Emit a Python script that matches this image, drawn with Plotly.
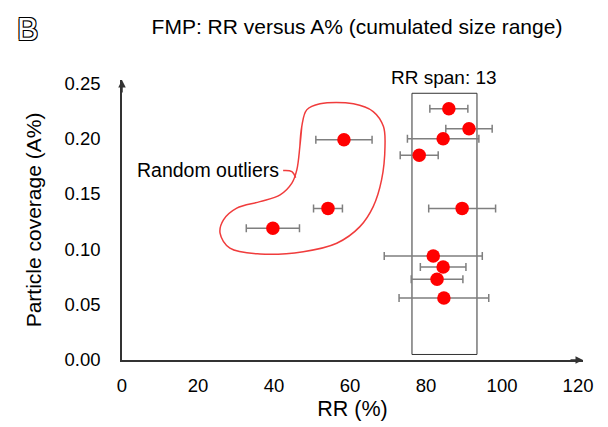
import plotly.graph_objects as go

# RR (%) with symmetric error, versus particle coverage (A%)
rr = [86.0, 91.3, 84.5, 78.2, 89.5, 81.9, 84.5, 82.9, 84.7, 58.4, 54.2, 39.7]
rr_err = [5.0, 6.1, 9.4, 5.0, 8.8, 12.9, 6.0, 6.8, 11.8, 7.4, 3.8, 7.0]
coverage = [0.227, 0.209, 0.200, 0.185, 0.137, 0.094, 0.084, 0.073, 0.056, 0.199, 0.137, 0.119]

# RR span box
span_x = [76.3, 93.4]
span_y = [0.005, 0.241]
span_label = "RR span: 13"

# hand-drawn lasso round the outliers
lasso_x = [46.8, 47.3, 48.6, 52.1, 60.9, 66.1, 68.8, 69.2, 68.3, 66.1, 62.6, 56.5, 47.7,
           36.3, 28.4, 25.8, 26.7, 30.2, 36.3, 41.6, 44.7, 46.0, 46.8, 47.3]
lasso_y = [0.1929, 0.2109, 0.2260, 0.2315, 0.2315, 0.2245, 0.2109, 0.1929, 0.1627, 0.1386,
           0.1205, 0.1055, 0.0979, 0.0958, 0.1010, 0.1146, 0.1266, 0.1372, 0.1431, 0.1492,
           0.1598, 0.1718, 0.1929, 0.2109]
hook_x = [42.4, 44.7, 45.7]
hook_y = [0.1712, 0.1703, 0.1648]

FONT = "Liberation Sans, Arial, sans-serif"

fig = go.Figure()

fig.add_trace(go.Scatter(x=lasso_x, y=lasso_y, mode="lines",
                         line=dict(color="#f03c3c", width=1.5, shape="spline", smoothing=1.0),
                         hoverinfo="skip", showlegend=False))
fig.add_trace(go.Scatter(x=hook_x, y=hook_y, mode="lines",
                         line=dict(color="#f03c3c", width=1.5, shape="spline"),
                         hoverinfo="skip", showlegend=False))

fig.add_trace(go.Scatter(
    x=rr, y=coverage, mode="markers",
    marker=dict(color="#ff0000", size=13.5),
    error_x=dict(type="data", array=rr_err, color="#7f7f7f", thickness=1.5, width=4),
    showlegend=False))

fig.add_shape(type="rect", x0=span_x[0], x1=span_x[1], y0=span_y[0], y1=span_y[1],
              line=dict(color="#333333", width=1), layer="below")

fig.add_annotation(x=sum(span_x) / 2, y=span_y[1], yshift=3, text=span_label,
                   showarrow=False, yanchor="bottom", font=dict(size=19, color="black"))
fig.add_annotation(x=41.8, y=0.172, text="Random outliers", showarrow=False,
                   xanchor="right", yanchor="middle", font=dict(size=19.5, color="black"))

# axis arrows
fig.add_annotation(x=121.3, y=0, ax=-14, ay=0, showarrow=True, arrowhead=2,
                   arrowsize=1, arrowwidth=1.5, arrowcolor="#333333", text="")
fig.add_annotation(x=0, y=0.253, ax=0, ay=14, showarrow=True, arrowhead=2,
                   arrowsize=1, arrowwidth=1.5, arrowcolor="#333333", text="")

# panel letter, outlined
fig.add_annotation(xref="paper", yref="paper", x=-0.204, y=1.182, text="B", showarrow=False,
                   xanchor="center", yanchor="middle",
                   font=dict(size=32, color="white",
                             shadow="-1px -1px 0 #000, 1px -1px 0 #000, -1px 1px 0 #000, 1px 1px 0 #000"))

fig.update_layout(
    width=608, height=427,
    margin=dict(l=114, r=33, t=72, b=75),
    paper_bgcolor="white", plot_bgcolor="white",
    font=dict(family=FONT, size=18.5, color="black"),
    title=dict(text="FMP: RR versus A% (cumulated size range)", x=0.574, y=0.9555,
               xref="container", yref="container", xanchor="center", yanchor="middle",
               font=dict(size=21)),
)
fig.update_xaxes(range=[0, 121.3], tickvals=[0, 20, 40, 60, 80, 100, 120],
                 showgrid=False, zeroline=False, showline=True, linecolor="#333333",
                 linewidth=1.5, ticks="outside", ticklen=8, tickcolor="rgba(0,0,0,0)",
                 automargin=False,
                 title=dict(text="RR (%)", font=dict(size=21.5), standoff=6))
fig.update_yaxes(range=[0, 0.253], tickvals=[0, 0.05, 0.10, 0.15, 0.20, 0.25],
                 tickformat=".2f", showgrid=False, zeroline=False, showline=True,
                 linecolor="#333333", linewidth=1.5, ticks="outside", ticklen=16,
                 tickcolor="rgba(0,0,0,0)", automargin=False,
                 title=dict(text="Particle coverage (A%)", font=dict(size=21), standoff=17))

fig.write_html("out.html")
